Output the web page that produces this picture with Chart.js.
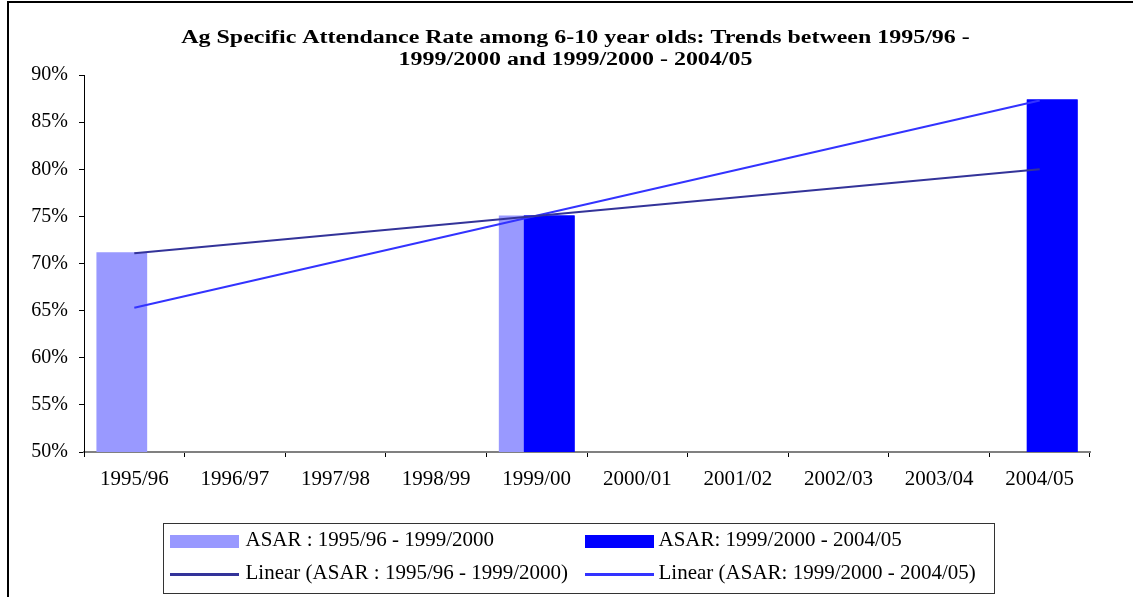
<!DOCTYPE html>
<html>
<head>
<meta charset="utf-8">
<script src="https://cdn.jsdelivr.net/npm/chart.js@4/dist/chart.umd.min.js"></script>
<style>
    body { margin: 0; background: #fff; }
    #wrap { width: 1133px; height: 597px; }
</style>
</head>
<body>
<div id="wrap"><canvas id="asarChart" width="1133" height="597"></canvas></div>
<script>
const anos = ['1995/96', '1996/97', '1997/98', '1998/99', '1999/00', '2000/01', '2001/02', '2002/03', '2003/04', '2004/05'];

// attendance rate (%) for each period
const asarPeriodo1 = [71.2, null, null, null, 75.1, null, null, null, null, null];
const asarPeriodo2 = [null, null, null, null, 75.1, null, null, null, null, 87.4];

// trend lines, start and end values
const linearPeriodo1 = [71.1, null, null, null, null, null, null, null, null, 80.0];
const linearPeriodo2 = [65.3, null, null, null, null, null, null, null, null, 87.3];

const rotulos = [
    'ASAR : 1995/96 - 1999/2000',
    'ASAR: 1999/2000 - 2004/05',
    'Linear (ASAR : 1995/96 - 1999/2000)',
    'Linear (ASAR: 1999/2000 - 2004/05)'
];
const titulo = [
    'Ag Specific Attendance Rate among 6-10 year olds: Trends between 1995/96 -',
    '1999/2000 and 1999/2000 - 2004/05'
];

const cores = ['#9999ff', '#0000ff', '#333399', '#3333ff'];
const fonte = '"Liberation Serif", "Times New Roman", serif';

// frame, title and legend box drawn straight on the canvas
const molduraPlugin = {
    id: 'moldura',
    beforeDraw(chart) {
        const ctx = chart.ctx;
        ctx.save();
        ctx.fillStyle = '#fff';
        ctx.fillRect(0, 0, chart.width, chart.height);
        ctx.strokeStyle = '#000';
        ctx.lineWidth = 2;
        ctx.strokeRect(8, 2, chart.width + 20, chart.height + 20);
        ctx.fillStyle = '#000';
        ctx.font = 'bold 18px ' + fonte;
        ctx.textAlign = 'center';
        ctx.textBaseline = 'middle';
        // title is set wide
        ctx.translate(575.5, 0);
        ctx.scale(1.33, 1);
        ctx.fillText(titulo[0], 0, 38);
        ctx.fillText(titulo[1], 0, 60);
        ctx.restore();
    },
    afterDatasetDraw(chart, args) {
        // second period bars sit on top of the first period ones
        if (args.index === 0) {
            const area = chart.chartArea;
            const ctx = chart.ctx;
            ctx.save();
            ctx.beginPath();
            ctx.rect(area.left, area.top, area.right - area.left, area.bottom - area.top);
            ctx.clip();
            chart.getDatasetMeta(1).controller.draw();
            ctx.restore();
        }
    },
    afterDraw(chart) {
        const ctx = chart.ctx;
        ctx.save();
        ctx.strokeStyle = '#333';
        ctx.lineWidth = 1;
        ctx.strokeRect(163.5, 523.5, 831, 70);
        ctx.font = '21px ' + fonte;
        ctx.textAlign = 'left';
        ctx.textBaseline = 'middle';
        const colX = [170, 585];
        const textoX = [245.5, 658.5];
        const linhaY = [541, 574];
        chart.data.datasets.forEach(function(ds, i) {
            const x = colX[i % 2];
            const y = linhaY[Math.floor(i / 2)];
            if (ds.type === 'bar') {
                ctx.fillStyle = ds.backgroundColor;
                ctx.fillRect(x, y - 6, 69, 13);
            } else {
                ctx.fillStyle = ds.borderColor;
                ctx.fillRect(x, y - 1, 69, 3);
            }
            ctx.fillStyle = '#000';
            ctx.fillText(ds.label, textoX[i % 2], y - 1);
        });
        ctx.restore();
    }
};

const ctx = document.getElementById('asarChart').getContext('2d');
new Chart(ctx, {
    data: {
        labels: anos,
        datasets: [{
            type: 'bar',
            label: rotulos[0],
            data: asarPeriodo1,
            backgroundColor: cores[0],
            order: 1
        }, {
            type: 'bar',
            label: rotulos[1],
            data: asarPeriodo2,
            backgroundColor: cores[1],
            order: 1
        }, {
            type: 'line',
            label: rotulos[2],
            data: linearPeriodo1,
            borderColor: cores[2],
            borderWidth: 2,
            pointRadius: 0,
            spanGaps: true,
            order: 0
        }, {
            type: 'line',
            label: rotulos[3],
            data: linearPeriodo2,
            borderColor: cores[3],
            borderWidth: 2,
            pointRadius: 0,
            spanGaps: true,
            order: 0
        }]
    },
    options: {
        responsive: false,
        animation: false,
        layout: {
            padding: { top: 75, right: 43, bottom: 105, left: 0 }
        },
        datasets: {
            bar: {
                categoryPercentage: 0.497,
                barPercentage: 2.03
            }
        },
        plugins: {
            legend: { display: false },
            title: { display: false },
            tooltip: { enabled: false }
        },
        scales: {
            x: {
                offset: true,
                grid: {
                    offset: true,
                    drawOnChartArea: false,
                    tickLength: 5,
                    color: '#000'
                },
                border: { color: '#808080', width: 2 },
                ticks: {
                    color: '#000',
                    padding: 10,
                    maxRotation: 0,
                    autoSkip: false,
                    font: { family: fonte, size: 21 }
                },
                afterFit(scale) { scale.height = 40; }
            },
            y: {
                min: 50,
                max: 90,
                grid: {
                    drawOnChartArea: false,
                    tickLength: 5,
                    color: '#000'
                },
                border: { color: '#000', width: 1 },
                ticks: {
                    stepSize: 5,
                    color: '#000',
                    padding: 11,
                    font: { family: fonte, size: 20 },
                    callback: v => v + '%'
                },
                afterFit(scale) { scale.width = 84; }
            }
        }
    },
    plugins: [molduraPlugin]
});
</script>
</body>
</html>
